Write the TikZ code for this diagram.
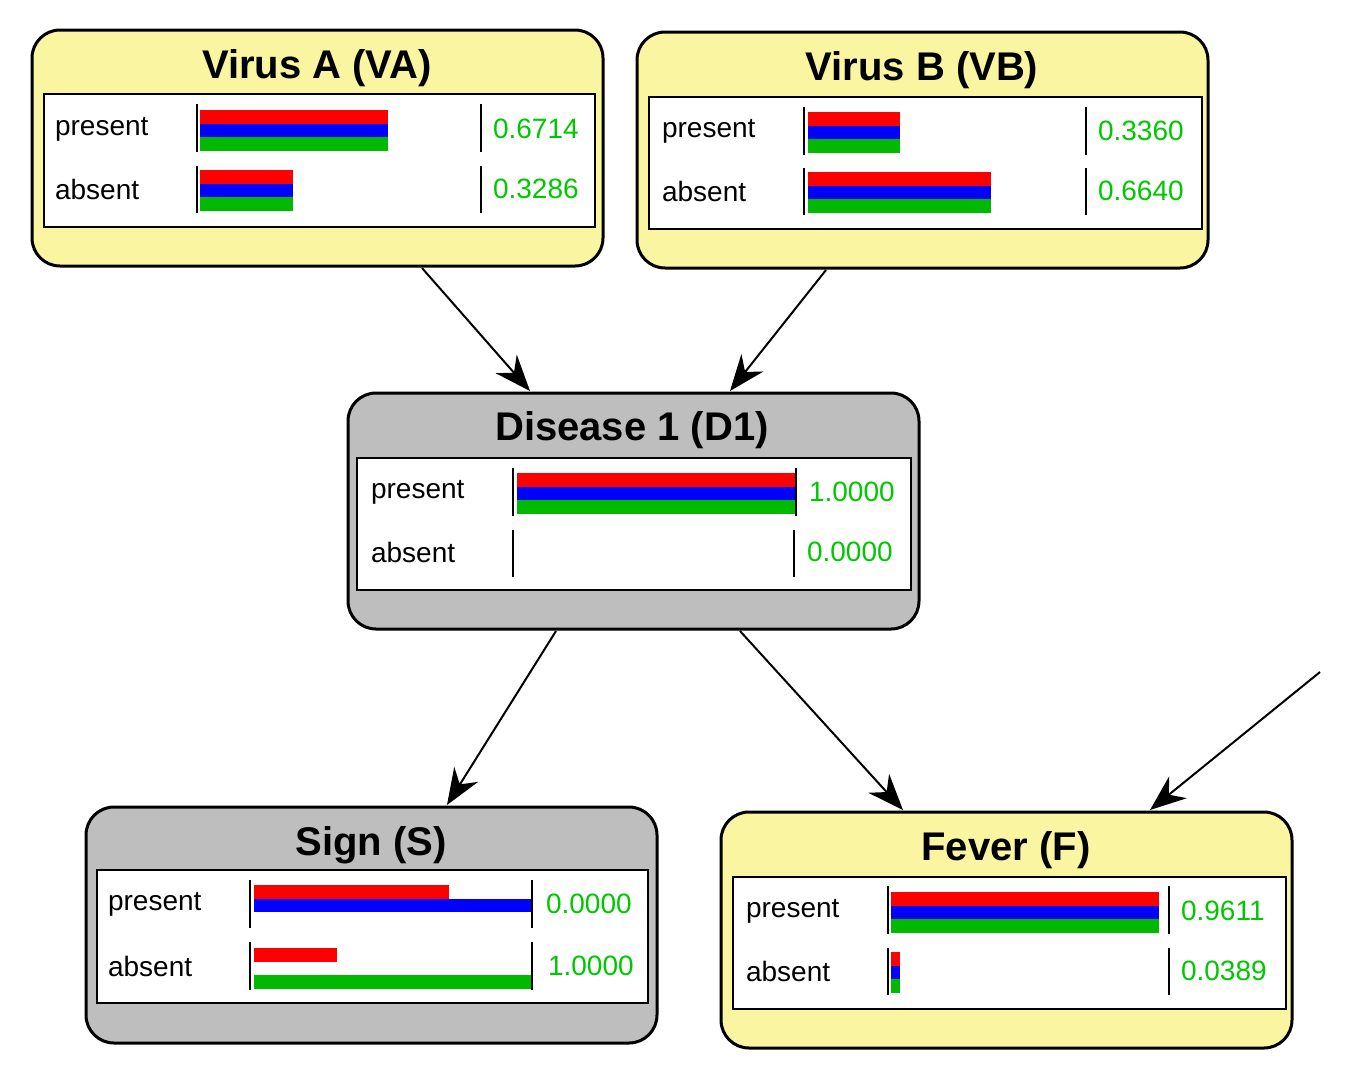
\documentclass[tikz,border=0pt]{standalone}
\usepackage{fontspec}
\setmainfont{Liberation Sans}
\usetikzlibrary{arrows.meta}
\definecolor{ylw}{RGB}{250,245,160}
\definecolor{gry}{RGB}{190,190,190}
\definecolor{gbar}{RGB}{0,185,0}
\definecolor{gval}{RGB}{0,200,0}
\tikzset{
 outer/.style={draw=black,line width=1.5pt,rounded corners=14pt},
 inner/.style={draw=black,fill=white,line width=1.2pt},
 ttl/.style={font=\bfseries\fontsize{20}{22}\selectfont,anchor=center},
 lbl/.style={font=\fontsize{14}{16}\selectfont,anchor=west},
 val/.style={font=\fontsize{14}{16}\selectfont,anchor=west,text=gval},
 sep/.style={line width=1pt},
 arr/.style={line width=1pt,-{Stealth[length=18pt,width=14pt]}}
}
\newcommand{\rbar}[4]{\fill[#1] (#2,#3) rectangle (#4,#3+13.5);}
\begin{document}
\begin{tikzpicture}[x=0.5pt,y=-0.5pt]
\useasboundingbox (0,0) rectangle (1346,1073);
% Virus A
\draw[outer,fill=ylw] (32,30) rectangle (603,266);
\node[ttl] (vat) at (317,68) {Virus A (VA)};
\draw[inner] (44,94) rectangle (595,227);
\node[lbl] at (48,129) {present}; \node[lbl] at (48,189) {absent};
\rbar{red}{200}{110}{388}\rbar{blue}{200}{123.5}{388}\rbar{gbar}{200}{137}{388}
\rbar{red}{200}{170}{293}\rbar{blue}{200}{183.5}{293}\rbar{gbar}{200}{197}{293}
\draw[sep] (197,104)--(197,152) (197,166)--(197,213) (481,104)--(481,152) (481,166)--(481,213);
\node[val] at (486,129) {0.6714}; \node[val] at (486,189) {0.3286};
\coordinate (vaout) at (422,268);
% Virus B
\draw[outer,fill=ylw] (637,32) rectangle (1208,268);
\node[ttl] (vbt) at (922,70) {Virus B (VB)};
\draw[inner] (649,97) rectangle (1202,229);
\node[lbl] at (655,131) {present}; \node[lbl] at (655,191) {absent};
\rbar{red}{808}{112}{900}\rbar{blue}{808}{125.5}{900}\rbar{gbar}{808}{139}{900}
\rbar{red}{808}{172}{991}\rbar{blue}{808}{185.5}{991}\rbar{gbar}{808}{199}{991}
\draw[sep] (804,107)--(804,155) (804,168)--(804,215) (1086,107)--(1086,155) (1086,168)--(1086,215);
\node[val] at (1091,131) {0.3360}; \node[val] at (1091,191) {0.6640};
\coordinate (vbout) at (826,270);
% Disease 1
\draw[outer,fill=gry] (348,393) rectangle (919,629);
\node[ttl] (d1t) at (632,430) {Disease 1 (D1)};
\draw[inner] (357,458) rectangle (911,590);
\node[lbl] at (364,492) {present}; \node[lbl] at (364,552) {absent};
\rbar{red}{517}{473}{796}\rbar{blue}{517}{486.5}{796}\rbar{gbar}{517}{500}{796}
\draw[sep] (513,468)--(513,516) (513,530)--(513,577) (796,468)--(796,516) (794,530)--(794,577);
\node[val] at (802,492) {1.0000}; \node[val] at (800,552) {0.0000};
\coordinate (d1in1) at (530,391); \coordinate (d1in2) at (730,391);
\coordinate (d1out1) at (556,631); \coordinate (d1out2) at (740,631);
% Sign
\draw[outer,fill=gry] (86,807) rectangle (657,1043);
\node[ttl] (st) at (371,845) {Sign (S)};
\draw[inner] (97,870) rectangle (648,1003);
\node[lbl] at (101,904) {present}; \node[lbl] at (101,966) {absent};
\rbar{red}{254}{885}{449}\rbar{blue}{254}{898.5}{532}
\rbar{red}{254}{948}{337}\rbar{gbar}{254}{975}{532}
\draw[sep] (250,880)--(250,928) (250,942)--(250,990) (532,880)--(532,928) (532,942)--(532,990);
\node[val] at (539,904) {0.0000}; \node[val] at (541,966) {1.0000};
\coordinate (sin) at (447,805);
% Fever
\draw[outer,fill=ylw] (721,812) rectangle (1292,1048);
\node[ttl] (ft) at (1006,850) {Fever (F)};
\draw[inner] (733,877) rectangle (1286,1009);
\node[lbl] at (739,911) {present}; \node[lbl] at (739,971) {absent};
\rbar{red}{891}{892}{1159}\rbar{blue}{891}{905.5}{1159}\rbar{gbar}{891}{919}{1159}
\rbar{red}{891}{952}{900}\rbar{blue}{891}{965.5}{900}\rbar{gbar}{891}{979}{900}
\draw[sep] (888,886)--(888,934) (888,948)--(888,995) (1169,886)--(1169,934) (1169,948)--(1169,995);
\node[val] at (1174,911) {0.9611}; \node[val] at (1174,971) {0.0389};
\coordinate (fin1) at (903,810); \coordinate (fin2) at (1150,810);
\coordinate (ext) at (1320,672);
% arrows
\draw[arr] (vaout) -- (d1in1);
\draw[arr] (vbout) -- (d1in2);
\draw[arr] (d1out1) -- (sin);
\draw[arr] (d1out2) -- (fin1);
\draw[arr] (ext) -- (fin2);
\end{tikzpicture}
\end{document}
